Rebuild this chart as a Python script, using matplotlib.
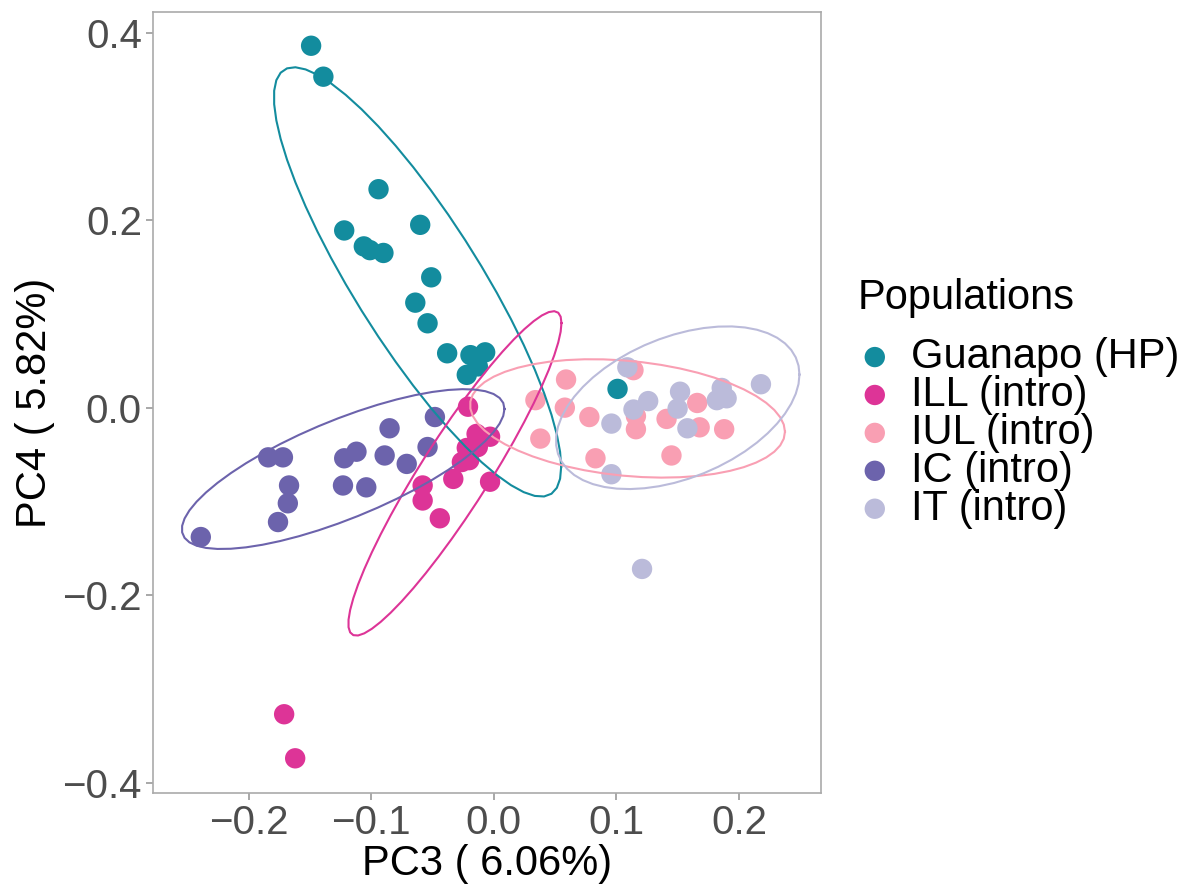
import numpy as np
import matplotlib
matplotlib.use('Agg')
import matplotlib.pyplot as plt

plt.rcParams['font.family'] = ['Liberation Sans', 'DejaVu Sans']

# PCA scores (PC3, PC4)
groups = ['Guanapo (HP)', 'ILL (intro)', 'IUL (intro)', 'IC (intro)', 'IT (intro)']
colors = ['#138C9E', '#DD3497', '#F99FB3', '#6C63AC', '#BBBBDA']

guanapo_x = [-0.149, -0.139, -0.094, -0.122, -0.060, -0.106, -0.101, -0.090, -0.051,
             -0.064, -0.054, -0.038, -0.019, -0.007, -0.022, -0.013, 0.101]
guanapo_y = [0.386, 0.353, 0.233, 0.189, 0.195, 0.172, 0.168, 0.165, 0.139,
             0.112, 0.090, 0.058, 0.056, 0.059, 0.035, 0.044, 0.020]

ill_x = [-0.021, -0.014, -0.003, -0.022, -0.020, -0.026, -0.033, -0.003, -0.058,
         -0.058, -0.044, -0.013, -0.171, -0.162]
ill_y = [0.001, -0.028, -0.031, -0.043, -0.056, -0.058, -0.076, -0.079, -0.083,
         -0.099, -0.118, -0.042, -0.327, -0.374]

iul_x = [0.059, 0.034, 0.058, 0.038, 0.078, 0.114, 0.116, 0.116, 0.141, 0.166,
         0.168, 0.188, 0.083, 0.145]
iul_y = [0.030, 0.008, 0.000, -0.033, -0.010, 0.040, -0.009, -0.023, -0.012, 0.005,
         -0.021, -0.023, -0.054, -0.051]

ic_x = [-0.048, -0.085, -0.054, -0.112, -0.122, -0.089, -0.071, -0.184, -0.172,
        -0.167, -0.168, -0.176, -0.239, -0.123, -0.104]
ic_y = [-0.010, -0.022, -0.042, -0.047, -0.054, -0.051, -0.060, -0.053, -0.053,
        -0.083, -0.102, -0.122, -0.138, -0.083, -0.085]

it_x = [0.109, 0.126, 0.114, 0.096, 0.152, 0.150, 0.158, 0.186, 0.190, 0.182,
        0.218, 0.096, 0.121]
it_y = [0.043, 0.007, -0.002, -0.017, 0.017, -0.001, -0.022, 0.021, 0.010, 0.008,
        0.025, -0.071, -0.172]

xs = [guanapo_x, ill_x, iul_x, ic_x, it_x]
ys = [guanapo_y, ill_y, iul_y, ic_y, it_y]


def cov_trob(pts, nu=5, maxit=25, tol=0.01):
    # port of MASS::cov.trob (what stat_ellipse uses)
    n, p = pts.shape
    loc = pts.mean(axis=0)
    w = np.ones(n)
    for _ in range(maxit):
        w0 = w
        X = pts - loc
        _, d, vt = np.linalg.svd(np.sqrt(w / w.sum())[:, None] * X, full_matrices=False)
        wX = X @ vt.T / d
        Q = (wX ** 2).sum(axis=1)
        w = (nu + p) / (nu + Q)
        loc = (w[:, None] * pts).sum(axis=0) / w.sum()
        if np.all(np.abs(w - w0) < tol):
            break
    cov = (np.sqrt(w)[:, None] * X).T @ (np.sqrt(w)[:, None] * X) / n
    return loc, cov


def ellipse(x, y, level=0.95, segments=51):
    pts = np.column_stack([x, y])
    center, shape = cov_trob(pts)
    dfd = len(x) - 1
    # F(2, dfd) quantile in closed form
    f = dfd / 2.0 * ((1 - level) ** (-2.0 / dfd) - 1)
    radius = np.sqrt(2 * f)
    ang = np.linspace(0, 2 * np.pi, segments + 1)
    circle = np.column_stack([np.cos(ang), np.sin(ang)])
    chol = np.linalg.cholesky(shape).T
    e = center + radius * circle @ chol
    return e[:, 0], e[:, 1]


fig = plt.figure(figsize=(11.88, 8.9), dpi=100)
ax = fig.add_axes([153 / 1188, 1 - 793 / 890, (821 - 153) / 1188, (793 - 12) / 890])

for gx, gy, c, name in zip(xs, ys, colors, groups):
    ax.scatter(gx, gy, s=215, color=c, edgecolors='none', label=name, zorder=2)

for gx, gy, c in zip(xs, ys, colors):
    ex, ey = ellipse(gx, gy)
    ax.plot(ex, ey, color=c, lw=1.5, zorder=3)

ax.set_xlim(-0.278, 0.267)
ax.set_ylim(-0.411, 0.422)
ax.set_xticks([-0.2, -0.1, 0.0, 0.1, 0.2])
ax.set_yticks([-0.4, -0.2, 0.0, 0.2, 0.4])
ax.set_xticklabels(['\u22120.2', '\u22120.1', '0.0', '0.1', '0.2'])
ax.set_yticklabels(['\u22120.4', '\u22120.2', '0.0', '0.2', '0.4'])
ax.tick_params(labelsize=29, length=5, width=1.2, pad=3,
               colors='#999999', labelcolor='#4D4D4D')
for sp in ax.spines.values():
    sp.set_color('#AAAAAA')
    sp.set_linewidth(1.2)

ax.set_xlabel('PC3 ( 6.06%)', fontsize=30, labelpad=1)
ax.set_ylabel('PC4 ( 5.82%)', fontsize=30, labelpad=5)

# legend: title drawn separately so the gap matches ggplot
fig.text(858 / 1188, 1 - 298 / 890, 'Populations', fontsize=30, va='center', ha='left')
leg = fig.legend(loc='upper left', bbox_to_anchor=(855 / 1188, 1 - 337 / 890),
                 frameon=False, fontsize=30, borderpad=0, handletextpad=0.4,
                 labelspacing=-0.05, markerscale=1.0, handlelength=0.95, borderaxespad=0)

fig.savefig('out.png', dpi=100)
